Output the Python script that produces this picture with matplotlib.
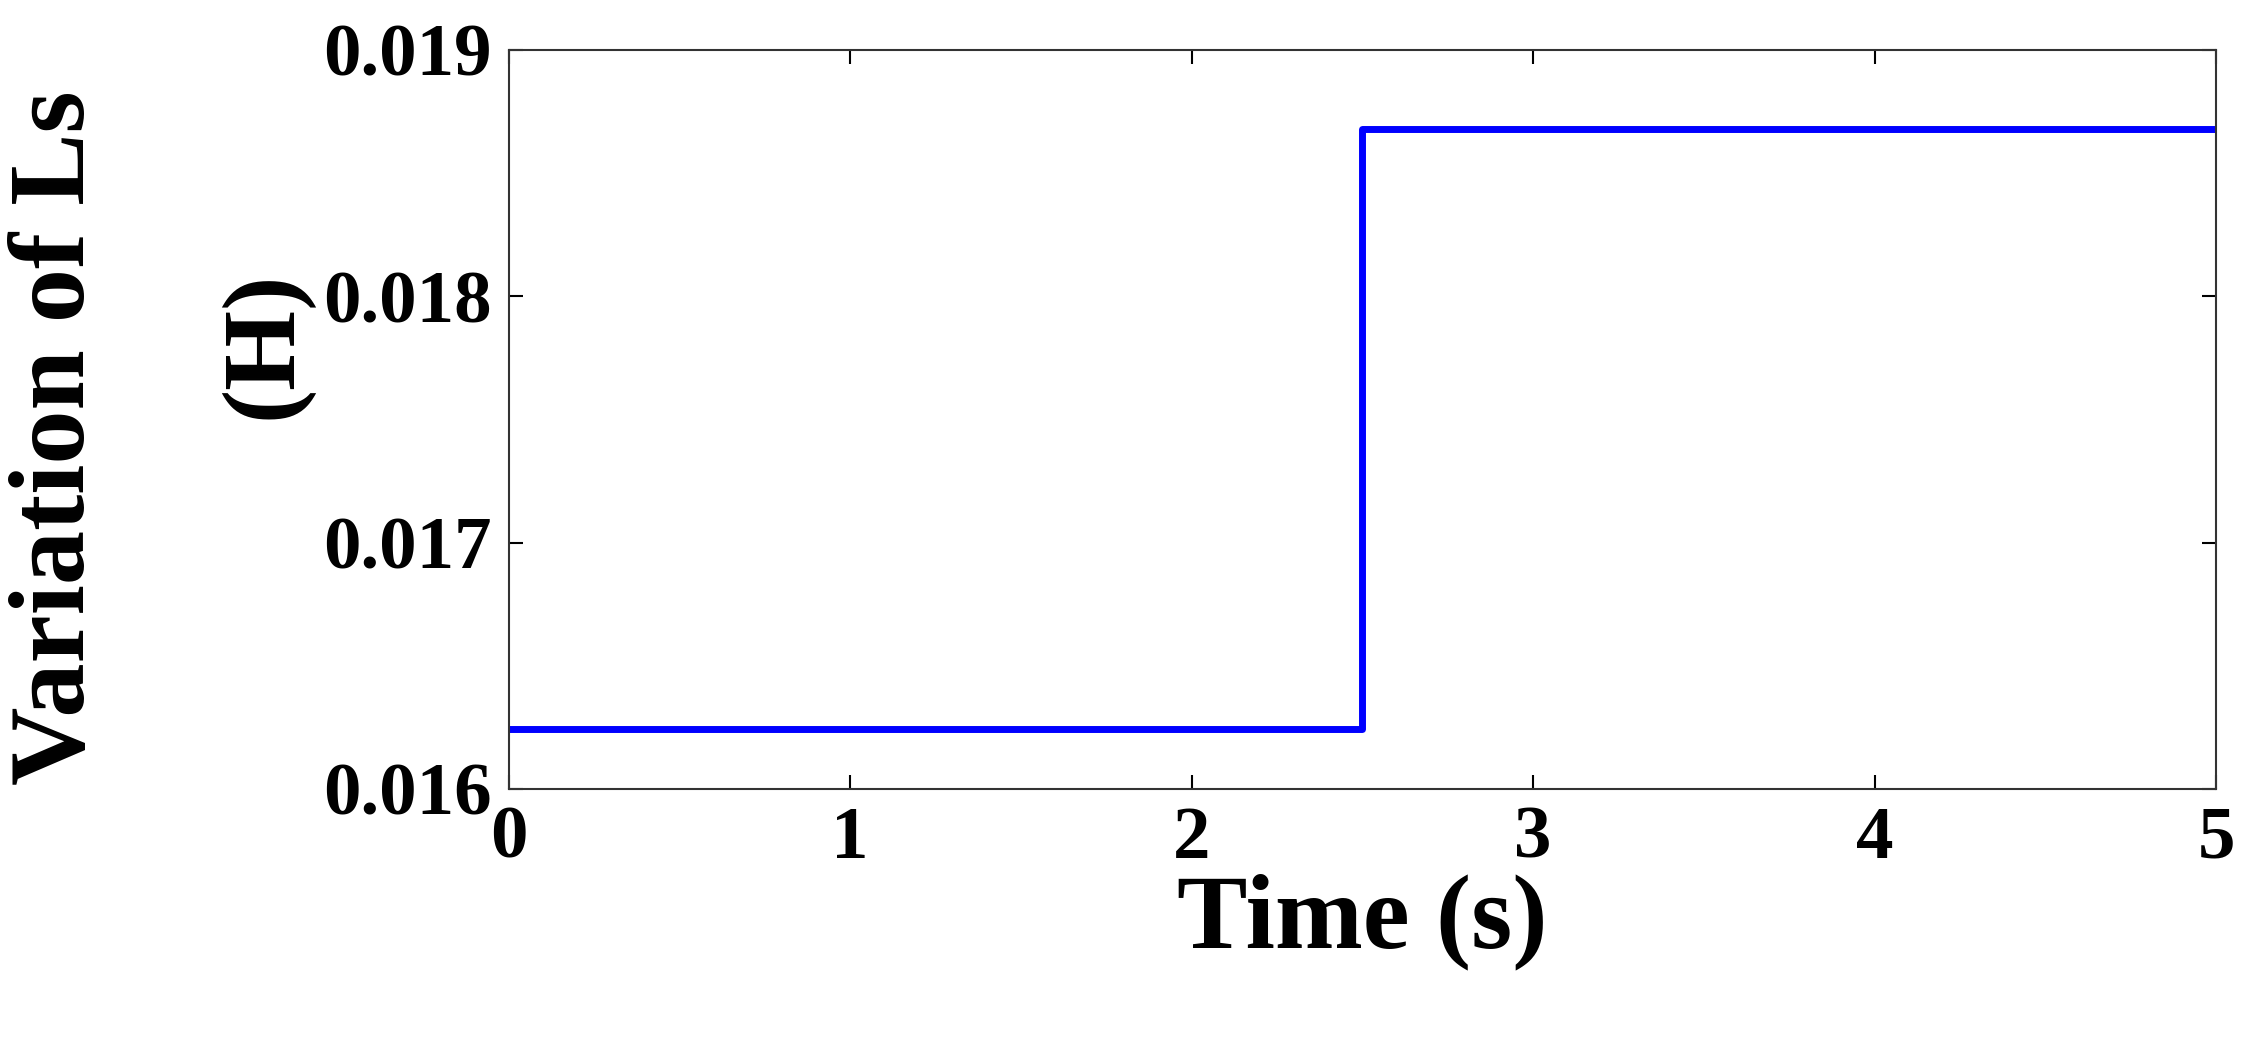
import matplotlib
matplotlib.use("Agg")
import matplotlib.pyplot as plt

# step signal of the stator inductance
t = [0, 2.5, 2.5, 5]
ls = [0.016245, 0.016245, 0.01868, 0.01868]

xticks = [0, 1, 2, 3, 4, 5]
yticks = [0.016, 0.017, 0.018, 0.019]

plt.rcParams['font.family'] = ['Liberation Serif', 'DejaVu Serif']
plt.rcParams['font.weight'] = 'bold'

fig = plt.figure(figsize=(22.5, 10.38), dpi=100)
ax = fig.add_axes([0.226, 0.240, 0.759, 0.712])
ax.plot(t, ls, color='#0000ff', linewidth=5)
ax.set_xlim(0, 5)
ax.set_ylim(0.016, 0.019)
ax.set_xticks(xticks)
ax.set_yticks(yticks)
ax.set_xticklabels([str(v) for v in xticks])
ax.set_yticklabels(["%.3f" % v for v in yticks])
ax.tick_params(direction='in', top=True, right=True, length=10, width=1.5,
               labelsize=54, pad=12)
for s in ax.spines.values():
    s.set_linewidth(1.5)
    s.set_color('#333333')

ax.set_xlabel("Time (s)", fontsize=76, fontweight='bold', labelpad=0)
fig.text(0.026, 0.578, "Variation of Ls", rotation=90, fontsize=78,
         fontweight='bold', ha='center', va='center')
fig.text(0.118, 0.668, "(H)", rotation=90, fontsize=74,
         fontweight='bold', ha='center', va='center')

plt.savefig("out.png", dpi=100)
